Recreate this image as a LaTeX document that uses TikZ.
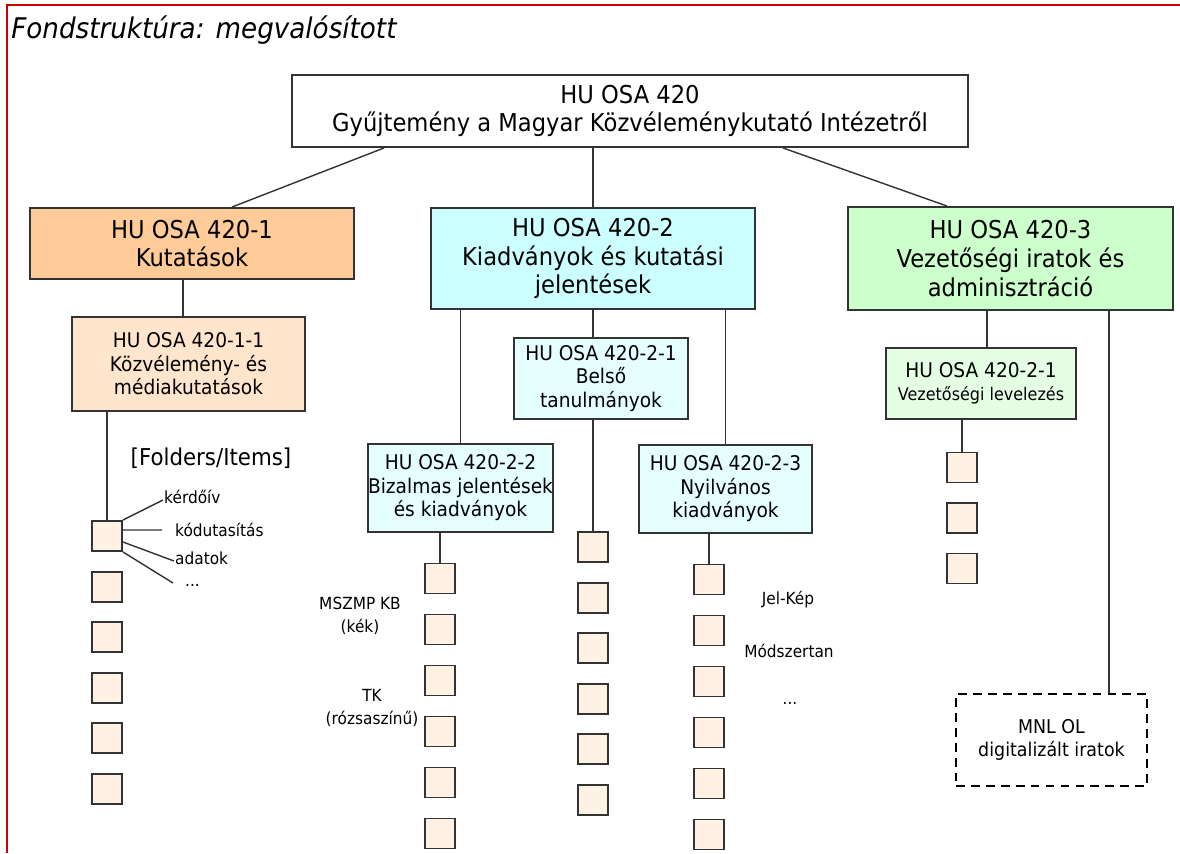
\documentclass[tikz,border=0pt]{standalone}
\usepackage{fontspec}
\setmainfont{DejaVu Sans}[FakeStretch=0.92]

\definecolor{orangeA}{HTML}{FFCC99}
\definecolor{orangeB}{HTML}{FFE5CC}
\definecolor{cyanA}{HTML}{CCFFFF}
\definecolor{cyanB}{HTML}{E5FFFF}
\definecolor{greenA}{HTML}{CCFFCC}
\definecolor{greenB}{HTML}{E5FFE5}
\definecolor{itemfill}{HTML}{FFF2E5}
\definecolor{framered}{HTML}{CC0000}
\definecolor{edge}{HTML}{333333}

\tikzset{
  mainbox/.style={draw=edge, line width=1.1pt, align=center, inner sep=0pt,
    font=\fontsize{14}{16.4}\selectfont},
  subbox/.style={draw=edge, line width=1.1pt, align=center, inner sep=0pt,
    font=\fontsize{11.5}{13.4}\selectfont},
  itembox/.style={draw=edge, line width=1.1pt, fill=itemfill, minimum size=0.6cm, inner sep=0pt},
  lbl/.style={inner sep=0.5pt, align=center, font=\fontsize{9.5}{13}\selectfont},
  link/.style={draw=edge, line width=0.8pt},
}

\begin{document}
\begin{tikzpicture}[x=0.02cm, y=-0.02cm]
        \useasboundingbox (0,0) rectangle (1180,853);
        \draw[framered, line width=1.2pt] (7,853) -- (7,5) -- (1180,5);
        \node[anchor=base west, inner sep=0pt, font=\itshape\fontsize{16.2}{19}\selectfont] (title) at (11,38) {Fondstruktúra: megvalósított};

        % fond and series
        \node[mainbox, fill=white, minimum width=13.52cm, minimum height=1.44cm] (top) at (630,111)
            {HU OSA 420\\Gyűjtemény a Magyar Közvéleménykutató Intézetről};
        \node[mainbox, fill=orangeA, minimum width=6.48cm, minimum height=1.42cm] (k1) at (192,243.5)
            {HU OSA 420-1\\Kutatások};
        \node[mainbox, fill=cyanA, minimum width=6.48cm, minimum height=2.02cm] (k2) at (593,258.5)
            {HU OSA 420-2\\Kiadványok és kutatási\\jelentések};
        \node[mainbox, fill=greenA, minimum width=6.5cm, minimum height=2.06cm] (k3) at (1010.5,258.5)
            {HU OSA 420-3\\Vezetőségi iratok és\\adminisztráció};

        % subseries
        \node[subbox, fill=orangeB, minimum width=4.66cm, minimum height=1.88cm] (k11) at (188.5,364)
            {HU OSA 420-1-1\\Közvélemény- és\\médiakutatások};
        \node[subbox, fill=cyanB, minimum width=3.48cm, minimum height=1.62cm] (k21) at (601,378.5)
            {HU OSA 420-2-1\\Belső\\tanulmányok};
        \node[subbox, fill=cyanB, minimum width=3.7cm, minimum height=1.76cm] (k22) at (460.5,488)
            {HU OSA 420-2-2\\Bizalmas jelentések\\és kiadványok};
        \node[subbox, fill=cyanB, minimum width=3.46cm, minimum height=1.76cm] (k23) at (725.5,489)
            {HU OSA 420-2-3\\Nyilvános\\kiadványok};
        \node[subbox, fill=greenB, minimum width=3.8cm, minimum height=1.42cm] (k31) at (981,383.5)
            {HU OSA 420-2-1\\\fontsize{9.9}{13}\selectfont Vezetőségi levelezés};
        \node[subbox, draw=black, line width=1.6pt, dash pattern=on 5pt off 3.5pt,
            font=\fontsize{10.8}{13}\selectfont, minimum width=3.82cm, minimum height=1.84cm] (mnl) at (1051.5,740)
            {MNL OL\\digitalizált iratok};

        % folders
        \foreach \i in {1,...,6} {
            \node[itembox] (sqa-\i) at (107,{485.4+50.6*\i}) {};
            \node[itembox] (sqb-\i) at (440,{527.5+51*\i}) {};
            \node[itembox] (sqc-\i) at (593,{496.4+50.6*\i}) {};
            \node[itembox] (sqd-\i) at (709,{528.5+51*\i}) {};
        }
        \foreach \i in {1,2,3}
            \node[itembox] (sqe-\i) at (962,{417+50.5*\i}) {};

        % connectors
        \draw[link] ([xshift=-4.92cm]top.south) -- ([xshift=0.8cm]k1.north);
        \draw[link] (top.south -| k2.north) -- (k2.north);
        \draw[link] ([xshift=3.06cm]top.south) -- ([xshift=-1.27cm]k3.north);
        \draw[link] ([xshift=-0.18cm]k1.south) -- ([xshift=-0.18cm]k1.south |- k11.north);
        \draw[link] (sqa-1.north |- k11.south) -- (sqa-1.north);
        \draw[link] (k22.north |- k2.south) -- (k22.north);
        \draw[link] (k23.north |- k2.south) -- (k23.north);
        \draw[link] (k2.south) -- (k21.north -| k2.south);
        \draw[link] (k21.south -| sqc-1.north) -- (sqc-1.north);
        \draw[link] (sqb-1.north |- k22.south) -- (sqb-1.north);
        \draw[link] (sqd-1.north |- k23.south) -- (sqd-1.north);
        \draw[link] ([xshift=0.12cm]k31.north |- k3.south) -- ([xshift=0.12cm]k31.north);
        \draw[link] (sqe-1.north |- k31.south) -- (sqe-1.north);
        \draw[link] ([xshift=1.15cm]mnl.north |- k3.south) -- ([xshift=1.15cm]mnl.north);

        % labels
        \node[font=\fontsize{13.2}{15}\selectfont] (folders) at (211,458) {[Folders/Items]};
        \node[lbl, anchor=west] (lq1) at (163,497) {kérdőív};
        \node[lbl, anchor=west] (lq2) at (174,530) {kódutasítás};
        \node[lbl, anchor=west] (lq3) at (174,558) {adatok};
        \node[lbl, anchor=base west] (lq4) at (184,586) {...};
        \draw[link] (sqa-1.north east) -- ([yshift=-0.06cm]lq1.west);
        \draw[link] ([yshift=0.12cm]sqa-1.east) -- ([xshift=-0.24cm]lq2.west);
        \draw[link] ([yshift=-0.12cm]sqa-1.east) -- ([yshift=-0.06cm]lq3.west);
        \draw[link] (sqa-1.south east) -- ([xshift=-0.22cm, yshift=0.06cm]lq4.base west);

        \node[lbl] (lmszmp) at (360,616) {MSZMP KB\\(kék)};
        \node[lbl] (ltk) at (372,708) {TK\\(rózsaszínű)};
        \node[lbl] (ljel) at (788,600) {Jel-Kép};
        \node[lbl] (lmod) at (789,651) {Módszertan};
        \node[lbl] (ldots) at (790,703) {...};
    \end{tikzpicture}
\end{document}
